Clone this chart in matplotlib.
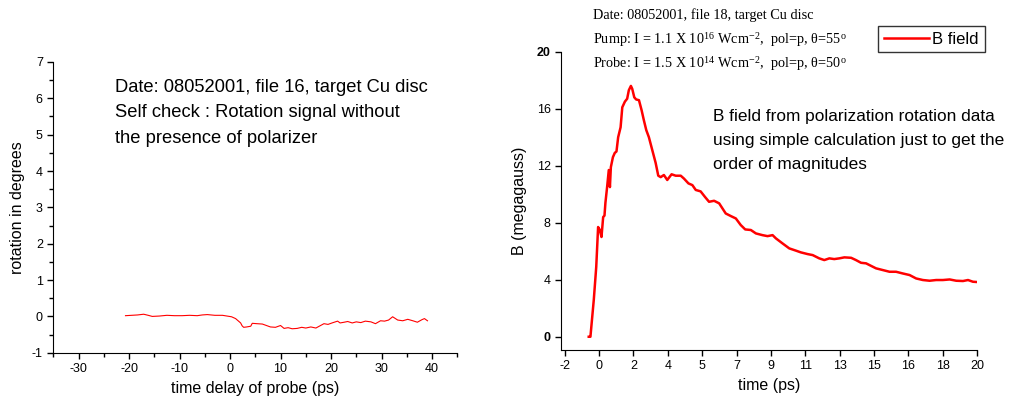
import numpy as np
import matplotlib
matplotlib.use("Agg")
import matplotlib.pyplot as plt
from matplotlib.ticker import MultipleLocator

plt.rcParams['font.family'] = ['Liberation Sans', 'DejaVu Sans']
plt.rcParams['mathtext.fontset'] = 'stix'
plt.rcParams['axes.unicode_minus'] = False

# ---- lewy wykres: sygnał rotacji bez polaryzatora ----
t_rot = [-20.7, -19.5, -18.3, -17.1, -16.2, -15.4, -14.0, -12.5, -11.0, -9.5, -8.0,
         -6.5, -5.5, -4.5, -3.0, -1.5, -0.6, 0.3, 1.1, 1.6, 2.1, 2.4, 2.7, 3.3, 4.1,
         4.4, 5.3, 6.4, 7.2, 8.0, 9.0, 10.0, 10.7, 11.5, 12.3, 13.3, 14.2, 15.0, 16.0,
         17.0, 17.8, 18.6, 19.4, 20.2, 21.3, 21.8, 22.6, 23.3, 24.2, 25.0, 25.9, 26.8,
         27.9, 28.8, 29.8, 30.6, 31.4, 32.2, 33.2, 34.2, 35.2, 36.2, 37.1, 38.0, 38.5, 39.1]
rot = [0.02, 0.03, 0.04, 0.06, 0.03, 0.0, 0.01, 0.03, 0.02, 0.02, 0.03,
       0.02, 0.04, 0.05, 0.03, 0.03, 0.01, -0.01, -0.06, -0.12, -0.18, -0.26, -0.30, -0.29, -0.27,
       -0.19, -0.20, -0.21, -0.25, -0.29, -0.30, -0.25, -0.33, -0.31, -0.34, -0.33, -0.30, -0.32, -0.29,
       -0.32, -0.26, -0.20, -0.22, -0.18, -0.13, -0.18, -0.16, -0.14, -0.18, -0.15, -0.17, -0.13,
       -0.15, -0.20, -0.12, -0.13, -0.10, -0.01, -0.10, -0.12, -0.08, -0.12, -0.16, -0.09, -0.06, -0.12]

# ---- prawy wykres: pole B ----
t_B = [-0.72, -0.63, -0.45, -0.32, -0.22, -0.13, -0.04, 0.05, 0.12, 0.17, 0.26, 0.35,
       0.41, 0.46, 0.57, 0.67, 0.76, 0.85, 0.98, 1.07, 1.21, 1.33, 1.42, 1.53, 1.60,
       1.71, 1.81, 1.96, 2.10, 2.22, 2.35, 2.49, 2.67, 2.85, 2.99, 3.12, 3.29, 3.47,
       3.70, 3.92, 4.19, 4.36, 4.60, 4.81, 4.99, 5.25, 5.49, 5.70, 5.97, 6.24, 6.59,
       6.86, 7.13, 7.39, 7.63, 7.93, 8.20, 8.55, 8.82, 9.09, 9.27, 9.62, 9.98, 10.34,
       10.60, 10.96, 11.23, 11.58, 11.85, 12.12, 12.38, 12.65, 12.92, 13.28, 13.54,
       13.81, 14.08, 14.26, 14.61, 14.97, 15.33, 15.68, 16.04, 16.40, 16.75, 17.11,
       17.47, 17.82, 18.18, 18.54, 18.89, 19.25, 19.52, 19.78, 20.0]
B = [0.0, 0.0, 2.6, 4.9, 7.7, 7.5, 7.0, 8.4, 8.5, 9.4, 10.5, 11.7,
     10.5, 11.9, 12.6, 12.9, 13.0, 14.0, 14.7, 16.1, 16.5, 16.7, 17.3, 17.6, 17.4,
     16.8, 16.65, 16.6, 15.9, 15.2, 14.5, 14.0, 13.1, 12.2, 11.3, 11.2, 11.35, 11.0,
     11.4, 11.3, 11.3, 11.1, 10.76, 10.64, 10.3, 10.2, 9.8, 9.47, 9.54, 9.36, 8.65,
     8.47, 8.3, 7.84, 7.53, 7.49, 7.25, 7.13, 7.06, 7.13, 6.9, 6.55, 6.2, 6.04,
     5.92, 5.8, 5.73, 5.5, 5.38, 5.5, 5.45, 5.5, 5.57, 5.54, 5.38,
     5.19, 5.15, 5.03, 4.8, 4.68, 4.56, 4.56, 4.44, 4.33, 4.09, 3.98,
     3.93, 3.98, 3.98, 4.02, 3.93, 3.91, 3.98, 3.86, 3.84]

xtick_pos = np.linspace(-2, 20, 13)
xtick_lab = ['-2', '0', '2', '4', '5', '7', '9', '11', '13', '15', '16', '18', '20']

fig = plt.figure(figsize=(10.11, 4.05), dpi=100)

# lewy
ax1 = fig.add_axes([0.0527, 0.129, 0.3996, 0.718])
ax1.plot(t_rot, rot, color='red', lw=0.8)
ax1.set_xlim(-35, 45)
ax1.set_ylim(-1, 7)
ax1.xaxis.set_major_locator(MultipleLocator(10))
ax1.xaxis.set_minor_locator(MultipleLocator(5))
ax1.yaxis.set_major_locator(MultipleLocator(1))
ax1.yaxis.set_minor_locator(MultipleLocator(0.5))
ax1.spines['top'].set_visible(False)
ax1.spines['right'].set_visible(False)
ax1.tick_params(labelsize=9, length=4, width=1, direction='out')
ax1.tick_params(which='minor', length=3, width=1)
ax1.set_xlabel("time delay of probe (ps)", fontsize=11.5, labelpad=4)
ax1.set_ylabel("rotation in degrees", fontsize=11.5, labelpad=5)
for i, s in enumerate(["Date: 08052001, file 16, target Cu disc",
                       "Self check : Rotation signal without",
                       "the presence of polarizer"]):
    fig.text(115 / 1011, 1 - (87.3 + 25.5 * i) / 405, s, fontsize=13.2, va='center')

# prawy
ax2 = fig.add_axes([0.5549, 0.1358, 0.4115, 0.7365])
ax2.plot(t_B, B, color='red', lw=1.8, label='B field')
ax2.set_xlim(-2.2, 20)
ax2.set_ylim(-0.93, 20)
ax2.set_xticks(xtick_pos)
ax2.set_xticklabels(xtick_lab)
ax2.set_yticks([0, 4, 8, 12, 16, 20])
ax2.spines['top'].set_visible(False)
ax2.spines['right'].set_visible(False)
ax2.tick_params(labelsize=9, length=4, width=1, direction='out')
for lab in ax2.get_yticklabels():
    if lab.get_text() in ('0', '20'):
        lab.set_fontweight('bold')
ax2.set_xlabel("time (ps)", fontsize=11.5, labelpad=4)
ax2.set_ylabel("B (megagauss)", fontsize=11.5, labelpad=7)

ax2.legend(loc='center', bbox_to_anchor=(931.5 / 1011, 1 - 39 / 405),
           bbox_transform=fig.transFigure, fontsize=12, frameon=True,
           fancybox=False, edgecolor='black', handlelength=2.7,
           handletextpad=0.2, borderpad=0.35)

serif = ['Liberation Serif', 'DejaVu Serif']
fig.text(592.7 / 1011, 1 - 15 / 405, "Date: 08052001, file 18, target Cu disc",
         family=serif, fontsize=10.3, va='center')
fig.text(592.7 / 1011, 1 - 39.3 / 405,
         r"Pump: I = 1.1 X 10$^{\mathregular{16}}$ Wcm$^{\mathregular{-2}}$,  pol=p, θ=55$^{\mathregular{o}}$",
         family=serif, fontsize=10.3, va='center')
fig.text(592.7 / 1011, 1 - 63.3 / 405,
         r"Probe: I = 1.5 X 10$^{\mathregular{14}}$ Wcm$^{\mathregular{-2}}$,  pol=p, θ=50$^{\mathregular{o}}$",
         family=serif, fontsize=10.3, va='center')

for i, s in enumerate(["B field from polarization rotation data",
                       "using simple calculation just to get the",
                       "order of magnitudes"]):
    fig.text(712.7 / 1011, 1 - (116.7 + 23.7 * i) / 405, s, fontsize=12.4, va='center')

fig.savefig("out.png", dpi=100)
